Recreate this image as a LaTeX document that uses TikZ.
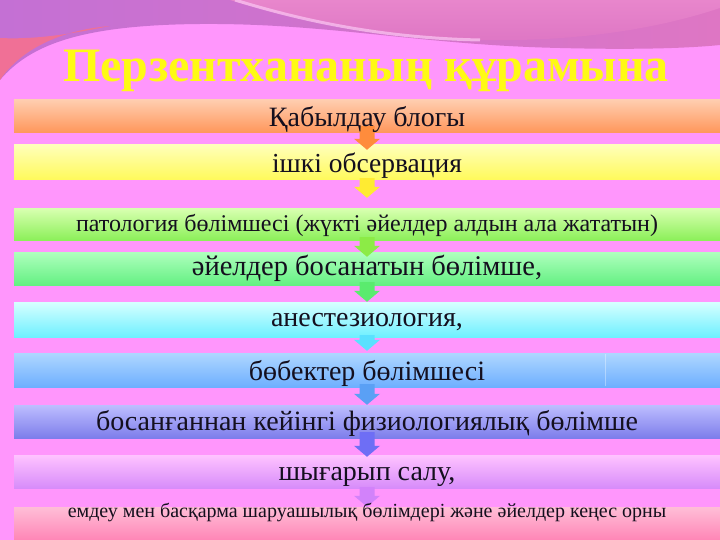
\documentclass[tikz,border=0pt]{standalone}
\usepackage{fontspec}
\setmainfont{Liberation Serif}
\usetikzlibrary{calc}
\definecolor{bgpink}{RGB}{255,150,252}
\definecolor{mauveA}{RGB}{196,112,212}
\definecolor{mauveB}{RGB}{222,118,196}
\definecolor{redpink}{RGB}{240,112,150}
\definecolor{toppink}{RGB}{232,134,204}
\definecolor{hilite}{RGB}{248,190,238}
\definecolor{titley}{RGB}{255,250,20}
\definecolor{txt}{RGB}{20,15,30}
\definecolor{aA}{RGB}{255,140,60}
\definecolor{aB}{RGB}{255,235,50}
\definecolor{aC}{RGB}{140,235,70}
\definecolor{aD}{RGB}{90,235,110}
\definecolor{aE}{RGB}{90,225,255}
\definecolor{aF}{RGB}{90,160,245}
\definecolor{aG}{RGB}{110,110,245}
\definecolor{aH}{RGB}{210,130,250}
\newcommand{\blockarr}[5]{%
  \fill[#3] let \p1=(#1.south), \p2=(#2.north) in
    (\x1-7.5pt,\y1+#4pt) -- (\x1+7.5pt,\y1+#4pt) -- (\x1+7.5pt,\y2-#5pt+11pt)
    -- (\x1+13pt,\y2-#5pt+11pt) -- (\x1,\y2-#5pt) -- (\x1-13pt,\y2-#5pt+11pt)
    -- (\x1-7.5pt,\y2-#5pt+11pt) -- cycle;}
\tikzset{
  bar/.style={rectangle, minimum width=706pt, inner sep=0pt, draw=none},
  lbl/.style={anchor=base, text=txt, inner sep=0pt},
}
\begin{document}
\begin{tikzpicture}[x=1pt,y=-1pt]
\useasboundingbox (0,0) rectangle (720,540);
\fill[bgpink] (0,0) rectangle (720,540);
% top decoration
\shade[left color=mauveA, right color=mauveB] (0,0) -- (720,0) -- (720,45)
  .. controls (690,48) and (640,50) .. (560,48)
  .. controls (420,45) and (330,23) .. (200,24)
  .. controls (80,25) and (30,45) .. (0,80) -- cycle;
\fill[redpink] (0,38) .. controls (40,40) and (80,32) .. (110,26)
  .. controls (60,30) and (20,50) .. (0,80) -- cycle;
\shade[top color=toppink, bottom color=mauveB] (230,0) .. controls (300,20) and (380,38) .. (480,40)
  .. controls (580,42) and (660,28) .. (720,8) -- (720,0) -- cycle;
\draw[hilite, line width=3pt, opacity=0.8] (235,0) .. controls (300,20) and (380,38) .. (480,40);
% title
\node[font=\bfseries\fontsize{48}{48}\selectfont, text=titley, anchor=base, inner sep=0pt] (title) at (366,82) {Перзентхананың құрамына};
% bars
\node[bar, minimum height=33pt, top color={rgb,255:red,255;green,205;blue,175}, bottom color={rgb,255:red,255;green,150;blue,90}] (b1) at (367,116.5) {};
\node[bar, minimum height=35pt, top color={rgb,255:red,255;green,255;blue,185}, bottom color={rgb,255:red,255;green,250;blue,90}] (b2) at (367,162.5) {};
\node[bar, minimum height=31pt, top color={rgb,255:red,215;green,255;blue,175}, bottom color={rgb,255:red,140;green,240;blue,90}] (b3) at (367,224.5) {};
\node[bar, minimum height=33pt, top color={rgb,255:red,175;green,255;blue,190}, bottom color={rgb,255:red,100;green,240;blue,130}] (b4) at (367,268.5) {};
\node[bar, minimum height=35pt, top color={rgb,255:red,215;green,255;blue,255}, bottom color={rgb,255:red,110;green,240;blue,255}] (b5) at (367,319.5) {};
\node[bar, minimum height=34pt, top color={rgb,255:red,175;green,215;blue,255}, bottom color={rgb,255:red,110;green,175;blue,255}] (b6) at (367,370) {};
\node[bar, minimum height=33pt, top color={rgb,255:red,190;green,190;blue,255}, bottom color={rgb,255:red,125;green,125;blue,235}] (b7) at (367,421.5) {};
\node[bar, minimum height=33pt, top color={rgb,255:red,255;green,195;blue,255}, bottom color={rgb,255:red,215;green,140;blue,250}] (b8) at (367,471.5) {};
\node[bar, minimum height=35pt, top color={rgb,255:red,255;green,190;blue,215}, bottom color={rgb,255:red,255;green,130;blue,180}] (b9) at (367,524.5) {};
\draw[white, opacity=0.35, line width=1pt] (605,354) -- (605,386);
% arrows
\blockarr{b1}{b2}{aA}{7}{5}
\blockarr{b2}{b3}{aB}{2}{-11}
\blockarr{b3}{b4}{aC}{3}{5}
\blockarr{b4}{b5}{aD}{3}{0}
\blockarr{b5}{b6}{aE}{2}{-2}
\blockarr{b6}{b7}{aF}{3}{0}
\blockarr{b7}{b8}{aG}{6}{2}
\blockarr{b8}{b9}{aH}{1}{0}
% labels
\node[lbl, font=\fontsize{28}{28}\selectfont] (t1) at (367,127) {Қабылдау блогы};
\node[lbl, font=\fontsize{27.5}{28}\selectfont] (t2) at (367,173) {ішкі обсервация};
\node[lbl, font=\fontsize{24}{24}\selectfont] (t3) at (367,232) {патология бөлімшесі (жүкті әйелдер алдын ала жататын)};
\node[lbl, font=\fontsize{28.5}{28}\selectfont] (t4) at (367,275) {әйелдер босанатын бөлімше,};
\node[lbl, font=\fontsize{28}{28}\selectfont] (t5) at (367,326) {анестезиология,};
\node[lbl, font=\fontsize{28}{28}\selectfont] (t6) at (367,380) {бөбектер бөлімшесі};
\node[lbl, font=\fontsize{28}{28}\selectfont] (t7) at (367,430) {босанғаннан кейінгі физиологиялық бөлімше};
\node[lbl, font=\fontsize{28}{28}\selectfont] (t8) at (367,480) {шығарып салу,};
\node[lbl, font=\fontsize{20}{20}\selectfont] (t9) at (367,517) {емдеу мен басқарма шаруашылық бөлімдері және әйелдер кеңес орны};
\end{tikzpicture}
\end{document}
